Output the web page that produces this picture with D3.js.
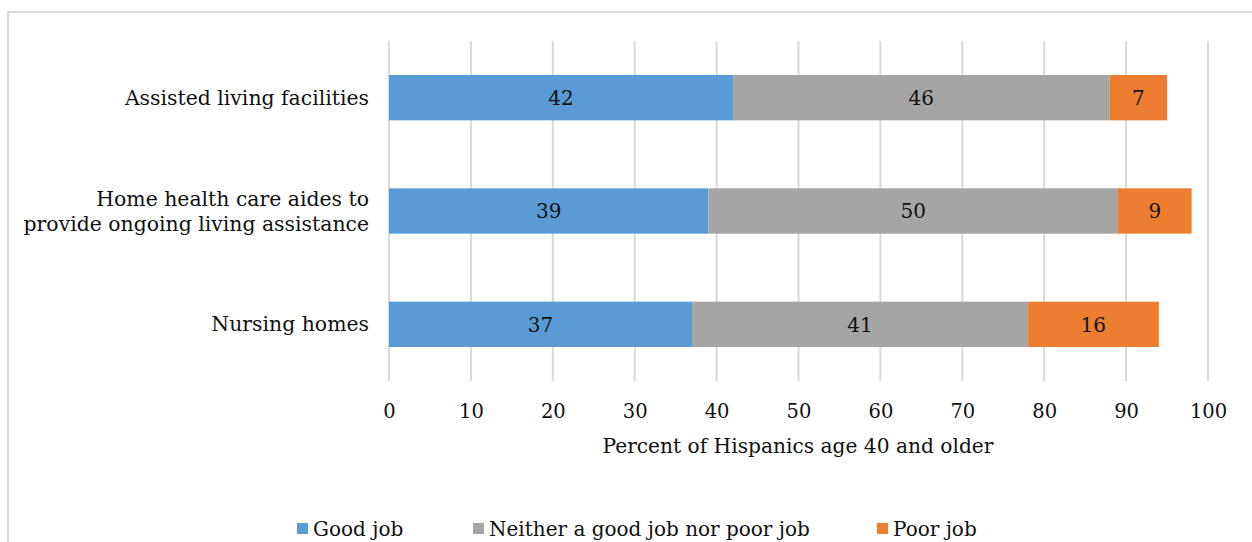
<!DOCTYPE html>
<html>
<head>
<meta charset="utf-8">
<script src="https://cdn.jsdelivr.net/npm/d3@7"></script>
<style>
  html, body { margin: 0; padding: 0; background: #fff; }
  svg { display: block; }
  text { font-family: "DejaVu Serif", serif; fill: #111; }
</style>
</head>
<body>
<svg id="chart" width="1252" height="542"></svg>
<script>
// Rating categories, top to bottom
const categories = [
  "Assisted living facilities",
  "Home health care aides to|provide ongoing living assistance",
  "Nursing homes"
];
const seriesNames = ["Good job", "Neither a good job nor poor job", "Poor job"];
const goodJob = [42, 39, 37];
const neither = [46, 50, 41];
const poorJob = [7, 9, 16];
const xTicks = [0, 10, 20, 30, 40, 50, 60, 70, 80, 90, 100];
const axisTitle = "Percent of Hispanics age 40 and older";

const colors = ["#5B9BD5", "#A5A5A5", "#ED7D31"];

const rows = categories.map((c, i) => ({
  cat: c, "Good job": goodJob[i],
  "Neither a good job nor poor job": neither[i],
  "Poor job": poorJob[i]
}));

const svg = d3.select("#chart");

// Chart frame
svg.append("rect")
  .attr("x", 8).attr("y", 12)
  .attr("width", 1260).attr("height", 560)
  .attr("fill", "none").attr("stroke", "#d9d9d9").attr("stroke-width", 2);

const plotLeft = 389, plotRight = 1208, plotTop = 41, plotBottom = 381;

const x = d3.scaleLinear().domain([0, 100]).range([plotLeft, plotRight]);
const y = d3.scaleBand().domain(categories).range([plotTop, plotBottom])
  .paddingInner(0.6).paddingOuter(0.3);

// Vertical gridlines
svg.append("g").selectAll("line").data(xTicks).join("line")
  .attr("x1", d => x(d)).attr("x2", d => x(d))
  .attr("y1", plotTop).attr("y2", plotBottom)
  .attr("stroke", "#d9d9d9").attr("stroke-width", 2);

// Stacked bars
const stack = d3.stack().keys(seriesNames);
const layers = stack(rows);

const gLayers = svg.append("g").selectAll("g").data(layers).join("g")
  .attr("fill", (d, i) => colors[i]);

gLayers.selectAll("rect").data(d => d).join("rect")
  .attr("x", d => x(d[0]))
  .attr("width", d => x(d[1]) - x(d[0]))
  .attr("y", d => y(d.data.cat))
  .attr("height", y.bandwidth());

// Value labels
gLayers.selectAll("text").data(d => d).join("text")
  .attr("x", d => (x(d[0]) + x(d[1])) / 2)
  .attr("y", d => y(d.data.cat) + y.bandwidth() / 2)
  .attr("dy", "0.36em")
  .attr("text-anchor", "middle")
  .style("font-size", "20px")
  .text(d => d[1] - d[0]);

// Category labels
const catG = svg.append("g");
categories.forEach(c => {
  const lines = c.split("|");
  const cy = y(c) + y.bandwidth() / 2;
  const lh = 25;
  const t = catG.append("text")
    .attr("text-anchor", "end")
    .style("font-size", "20.4px");
  lines.forEach((ln, j) => {
    t.append("tspan")
      .attr("x", 369)
      .attr("y", cy + (j - (lines.length - 1) / 2) * lh)
      .attr("dy", "0.35em")
      .text(ln);
  });
});

// X axis tick labels
const xAxis = d3.axisBottom(x).tickValues(xTicks).tickSize(0).tickPadding(0);
const ax = svg.append("g").attr("transform", `translate(0,${plotBottom})`).call(xAxis);
ax.select(".domain").remove();
ax.selectAll("text")
  .attr("y", 30).attr("dy", "0.35em")
  .style("font-family", "'DejaVu Serif', serif")
  .style("font-size", "19.5px").style("fill", "#111");

// Axis title
svg.append("text")
  .attr("x", (plotLeft + plotRight) / 2 - 0.5).attr("y", 446).attr("dy", "0.35em")
  .attr("text-anchor", "middle")
  .style("font-size", "20.2px")
  .text(axisTitle);

// Legend
const legendX = [297, 473, 877];
const lg = svg.append("g").selectAll("g").data(seriesNames).join("g")
  .attr("transform", (d, i) => `translate(${legendX[i]},529)`);
lg.append("rect").attr("x", 0).attr("y", -6).attr("width", 11).attr("height", 11)
  .attr("fill", (d, i) => colors[i]);
lg.append("text").attr("x", 16).attr("dy", "0.35em")
  .style("font-size", "20px")
  .text(d => d);
</script>
</body>
</html>
